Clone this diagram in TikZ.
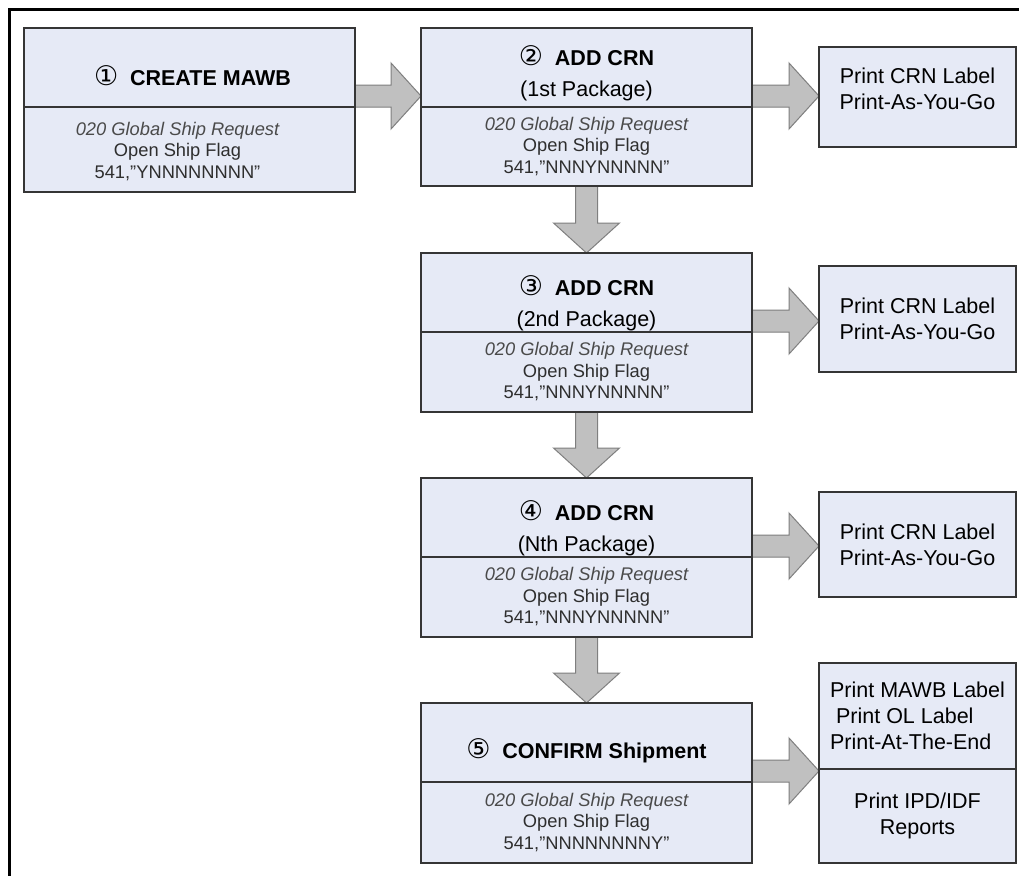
\documentclass[tikz,border=0pt]{standalone}
\usepackage{fontspec}
\setmainfont{Liberation Sans}
\newfontfamily\circfont{DejaVu Sans}
\usetikzlibrary{calc,backgrounds}
\definecolor{boxfill}{HTML}{E6EAF6}
\definecolor{boxline}{HTML}{353535}
\definecolor{arrowfill}{HTML}{C0C0C0}
\definecolor{arrowline}{HTML}{7F7F7F}
\definecolor{bodygray}{HTML}{2E2E2E}
\definecolor{italgray}{HTML}{4A4A4A}
\newcommand\HArrow[2]{%
  \draw[blockarrow] ($(#1.south east)+(0,-22)$)
    -- ($(#1.south east -| #2.west)+(-30,-22)$)
    -- ($(#1.south east -| #2.west)+(-30,-44)$)
    -- ($(#1.south east -| #2.west)+(0,-11)$)
    -- ($(#1.south east -| #2.west)+(-30,22)$)
    -- ($(#1.south east -| #2.west)+(-30,0)$)
    -- (#1.south east) -- cycle;}
\newcommand\VArrow[2]{%
  \draw[blockarrow] ($(#1.south)+(-11,0)$)
    -- ($(#1.south |- #2.north)+(-11,-30)$)
    -- ($(#1.south |- #2.north)+(-33,-30)$)
    -- (#1.south |- #2.north)
    -- ($(#1.south |- #2.north)+(33,-30)$)
    -- ($(#1.south |- #2.north)+(11,-30)$)
    -- ($(#1.south)+(11,0)$) -- cycle;}
\newcommand\circd[1]{{\circfont\fontsize{27}{31}\selectfont #1}\hspace{0.55em}}
\begin{document}
\begin{tikzpicture}[x=1pt,y=-1pt,
  part/.style={draw=boxline,line width=2pt,fill=boxfill,anchor=north west,inner sep=0pt,outer sep=0pt},
  mainw/.style={minimum width=331},
  rightw/.style={minimum width=197},
  bodytext/.style={align=center,text=bodygray,font=\fontsize{18.3}{21.5}\selectfont},
  titletext/.style={align=center,text=black,font=\fontsize{21.5}{31}\selectfont},
  righttext/.style={align=center,text=black,font=\fontsize{21.5}{26}\selectfont},
  blockarrow/.style={fill=arrowfill,draw=arrowline,line width=1pt,line join=miter}]
\useasboundingbox (0,0) rectangle (1019,875);
\draw[line width=3pt] (9.5,885) -- (9.5,9.5) -- (1030,9.5);

% main boxes
\node[part,mainw,minimum height=79] (b1t) at (24,28) {};
\node[part,mainw,minimum height=85] (b1b) at (24,107) {};
\node[bodytext] (b1y) at ($(b1b.center)+(-12,2)$)
  {{\itshape\color{italgray}020 Global Ship Request}\\Open Ship Flag\\541,"YNNNNNNNN"};
\node[part,mainw,minimum height=79] (b2t) at (421,28) {};
\node[part,mainw,minimum height=79,bodytext] (b2b) at (421,107)
  {{\itshape\color{italgray}020 Global Ship Request}\\Open Ship Flag\\541,"NNNYNNNNN"};
\node[part,mainw,minimum height=79] (b3t) at (421,253) {};
\node[part,mainw,minimum height=80,bodytext] (b3b) at (421,332)
  {{\itshape\color{italgray}020 Global Ship Request}\\Open Ship Flag\\541,"NNNYNNNNN"};
\node[part,mainw,minimum height=79] (b4t) at (421,478) {};
\node[part,mainw,minimum height=80,bodytext] (b4b) at (421,557)
  {{\itshape\color{italgray}020 Global Ship Request}\\Open Ship Flag\\541,"NNNYNNNNN"};
\node[part,mainw,minimum height=79] (b5t) at (421,703) {};
\node[part,mainw,minimum height=81,bodytext] (b5b) at (421,782)
  {{\itshape\color{italgray}020 Global Ship Request}\\Open Ship Flag\\541,"NNNNNNNNY"};

% titles
\node[titletext] (b1x) at ($(b1t.north)+(3,48)$) {\circd{①}\textbf{CREATE MAWB}};
\node[titletext] (b2x) at ($(b2t.north)+(0,45)$) {\circd{②}\textbf{ADD CRN}\\(1st Package)};
\node[titletext] (b3x) at ($(b3t.north)+(0,50)$) {\circd{③}\textbf{ADD CRN}\\(2nd Package)};
\node[titletext] (b4x) at ($(b4t.north)+(0,50)$) {\circd{④}\textbf{ADD CRN}\\(Nth Package)};
\node[titletext] (b5x) at ($(b5t.north)+(0,48)$) {\circd{⑤}\textbf{CONFIRM Shipment}};

% right boxes
\node[part,rightw,minimum height=100] (r1) at (819,47) {};
\node[righttext] (r1x) at ($(r1.center)+(0,-8)$) {Print CRN Label\\Print-As-You-Go};
\node[part,rightw,minimum height=106,righttext] (r2) at (819,266) {Print CRN Label\\Print-As-You-Go};
\node[part,rightw,minimum height=105,righttext] (r3) at (819,492) {Print CRN Label\\Print-As-You-Go};
\node[part,rightw,minimum height=106,righttext,align=left] (r4t) at (819,663)
  {Print MAWB Label\\\hspace*{6pt}Print OL Label\\Print-At-The-End};
\node[part,rightw,minimum height=94,righttext] (r4b) at (819,769) {Print IPD/IDF\\Reports};

% block arrows
\begin{pgfonlayer}{background}
\fill[white] (0,0) rectangle (1019,875);
\HArrow{b1t}{b2t}
\HArrow{b2t}{r1}
\HArrow{b3t}{r2}
\HArrow{b4t}{r3}
\HArrow{b5t}{r4t}
\VArrow{b2b}{b3t}
\VArrow{b3b}{b4t}
\VArrow{b4b}{b5t}
\end{pgfonlayer}
\end{tikzpicture}
\end{document}
